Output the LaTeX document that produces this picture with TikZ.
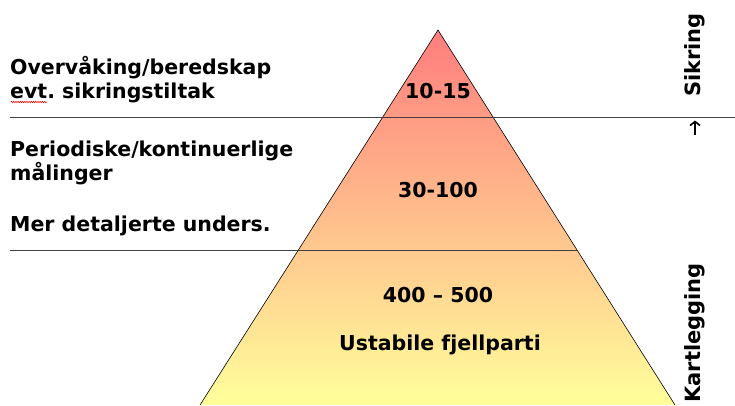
\documentclass[tikz,border=0pt]{standalone}
\usepackage{fontspec}
\setmainfont{DejaVu Sans}
\usetikzlibrary{decorations.pathmorphing,arrows.meta}
\tikzset{
  lbl/.style={font=\bfseries\fontsize{20.5}{24}\selectfont, anchor=base west, inner sep=0pt},
  num/.style={font=\bfseries\fontsize{20.5}{24}\selectfont, inner sep=0pt},
  side/.style={font=\bfseries\fontsize{21}{24}\selectfont, rotate=90, inner sep=0pt},
  rule/.style={draw=black!75, line width=0.8pt}
}
\frenchspacing
\begin{document}
\begin{tikzpicture}[x=1pt,y=-1pt]
\useasboundingbox (0,0) rectangle (735,405);
\coordinate (apex) at (438,30);
\coordinate (br) at (675,405);
\coordinate (bl) at (200,405);
\shade[top color={rgb,255:red,255;green,125;blue,125}, bottom color={rgb,255:red,255;green,255;blue,155}] (apex) -- (br) -- (bl) -- cycle;
\draw[line width=0.6pt] (bl) -- (apex) -- (br);
\coordinate (l1a) at (10,117); \coordinate (l1b) at (735,117);
\coordinate (l2a) at (10,250); \coordinate (l2b) at (577,250);
\draw[rule] (l1a) -- (l1b);
\draw[rule] (l2a) -- (l2b);
\node[lbl] (t1) at (10,74) {Overvåking/beredskap};
\node[lbl] (t2) at (10,98) {evt. sikringstiltak};
\draw[red, line width=0.5pt, decorate, decoration={zigzag, amplitude=0.8pt, segment length=2.2pt}] (11,102) -- (47,102);
\node[lbl] (t3) at (10,156) {Periodiske/kontinuerlige};
\node[lbl] (t4) at (10,180) {målinger};
\node[lbl] (t5) at (10,231) {Mer detaljerte unders.};
\node[num] (n1) at (438,91) {10-15};
\node[num] (n2) at (438,190) {30-100};
\node[num] (n3) at (438,295) {400 – 500};
\node[num] (n4) at (440,345) {Ustabile fjellparti};
\node[side] (s1) at (695,55) {Sikring};
\node[side] (s2) at (695,333) {Kartlegging};
\coordinate (arrs) at (695,135);
\coordinate (arre) at (695,120.5);
\draw[line width=1.6pt, -{Straight Barb[length=4pt,width=10pt,line width=1.6pt]}] (arrs) -- (arre);
\end{tikzpicture}
\end{document}
